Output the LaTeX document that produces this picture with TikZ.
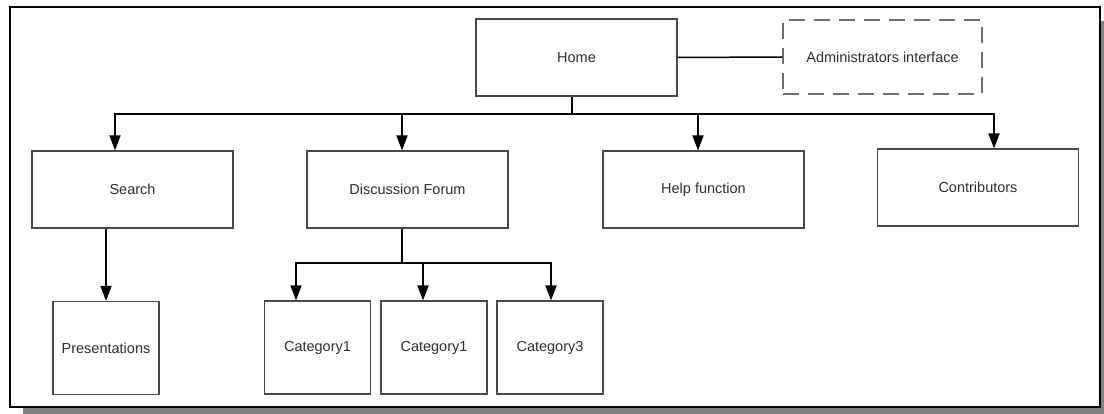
\documentclass[tikz,border=0pt]{standalone}
\usepackage{fontspec}
\setmainfont{Liberation Sans}
\usetikzlibrary{arrows.meta}
\definecolor{boxline}{HTML}{4A4A4A}
\definecolor{labeltext}{HTML}{303030}
\definecolor{shadowgray}{HTML}{808080}
\definecolor{dashgray}{HTML}{6E6E6E}
\begin{document}
\begin{tikzpicture}[x=1pt,y=-1pt,
  box/.style={draw=boxline, line width=1.2pt, inner sep=0pt, text=labeltext,
    font=\fontsize{14.5}{17}\selectfont, minimum width=201pt, minimum height=77pt},
  smallbox/.style={box, minimum width=106pt, minimum height=93pt},
  dashbox/.style={box, draw=dashgray, dash pattern=on 16pt off 9pt,
    minimum width=199pt, minimum height=74pt},
  link/.style={draw=black, line width=1.5pt},
  arrowlink/.style={draw=black, line width=1.8pt, -{Triangle[length=15pt,width=11pt]}}]
  \useasboundingbox (0,0) rectangle (1104,414);
  \clip (0,0) rectangle (1104,414);
  % page frame with drop shadow
  \fill[shadowgray] (23,21) rectangle (1118,428);
  \draw[fill=white, line width=2pt] (10,7) rectangle (1100,407);

  % boxes
  \node[box] (home) at (576.5,57.5) {Home};
  \node[dashbox] (admin) at (882.5,57) {Administrators interface};
  \node[box] (search) at (132.5,189.5) {Search};
  \node[box] (forum) at (407.5,189.5) {Discussion Forum};
  \node[box] (help) at (703.5,189.5) {Help function};
  \node[box] (contrib) at (978,187.5) {Contributors};
  \node[smallbox] (pres) at (106,348) {Presentations};
  \node[smallbox] (cat1) at (317.5,347.5) {Category1};
  \node[smallbox] (cat2) at (434,347.5) {Category1};
  \node[smallbox] (cat3) at (550,347.5) {Category3};

  % connectors
  \draw[link] (home.east) -- (admin.west);
  \coordinate (bus) at (572,114);
  \draw[arrowlink, -] (home.south -| bus) -- (bus);
  \draw[arrowlink] (bus) -| ([xshift=-17.5pt]search.north);
  \draw[arrowlink] (bus) -| ([xshift=-5.5pt]forum.north);
  \draw[arrowlink] (bus) -| ([xshift=-5.5pt]help.north);
  \draw[arrowlink] (bus) -| ([xshift=16pt]contrib.north);

  \draw[arrowlink] (search.south -| pres.north) -- (pres.north);

  \coordinate (fbus) at (402,263);
  \draw[arrowlink, -] (forum.south -| fbus) -- (fbus);
  \draw[arrowlink] (fbus) -| ([xshift=-21.5pt]cat1.north);
  \draw[arrowlink] (fbus) -| ([xshift=-11pt]cat2.north);
  \draw[arrowlink] (fbus) -| ([xshift=1pt]cat3.north);
\end{tikzpicture}
\end{document}
